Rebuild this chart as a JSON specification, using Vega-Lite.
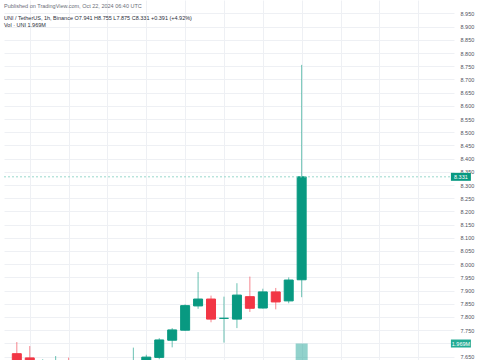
{
  "$schema": "https://vega.github.io/schema/vega-lite/v6.json",
  "width": 450,
  "height": 360,
  "autosize": {"type": "none"},
  "padding": {"left": 4, "top": 0, "right": 31, "bottom": 0},
  "background": "#ffffff",
  "config": {"view": {"stroke": null}, "font": "Liberation Sans"},
  "title": {
    "text": "Published on TradingView.com, Oct 22, 2024 06:40 UTC",
    "subtitle": ["UNI / TetherUS, 1h, Binance  O7.941  H8.755  L7.875  C8.331  +0.391 (+4.92%)", "Vol · UNI  1.969M"],
    "anchor": "start",
    "frame": "group",
    "orient": "top",
    "offset": -28,
    "fontSize": 5.5,
    "fontWeight": "normal",
    "color": "#6a6d78",
    "subtitleFontSize": 5.5,
    "subtitleColor": "#2a2e39",
    "subtitlePadding": 6,
    "subtitleLineHeight": 7
  },
  "datasets": {
    "candles": [
      {"i": 0, "open": 7.661, "high": 7.705, "low": 7.620, "close": 7.630},
      {"i": 1, "open": 7.645, "high": 7.690, "low": 7.600, "close": 7.610},
      {"i": 2, "open": 7.615, "high": 7.640, "low": 7.600, "close": 7.620},
      {"i": 3, "open": 7.600, "high": 7.652, "low": 7.590, "close": 7.630},
      {"i": 4, "open": 7.630, "high": 7.646, "low": 7.590, "close": 7.600},
      {"i": 5, "open": 7.600, "high": 7.625, "low": 7.580, "close": 7.590},
      {"i": 6, "open": 7.590, "high": 7.620, "low": 7.570, "close": 7.605},
      {"i": 7, "open": 7.605, "high": 7.630, "low": 7.580, "close": 7.590},
      {"i": 8, "open": 7.590, "high": 7.620, "low": 7.575, "close": 7.595},
      {"i": 9, "open": 7.595, "high": 7.684, "low": 7.585, "close": 7.615},
      {"i": 10, "open": 7.615, "high": 7.657, "low": 7.600, "close": 7.648},
      {"i": 11, "open": 7.647, "high": 7.720, "low": 7.640, "close": 7.713},
      {"i": 12, "open": 7.712, "high": 7.758, "low": 7.685, "close": 7.751},
      {"i": 13, "open": 7.750, "high": 7.848, "low": 7.748, "close": 7.843},
      {"i": 14, "open": 7.842, "high": 7.970, "low": 7.831, "close": 7.868},
      {"i": 15, "open": 7.868, "high": 7.881, "low": 7.780, "close": 7.792},
      {"i": 16, "open": 7.795, "high": 7.877, "low": 7.703, "close": 7.795},
      {"i": 17, "open": 7.792, "high": 7.928, "low": 7.758, "close": 7.883},
      {"i": 18, "open": 7.877, "high": 7.953, "low": 7.819, "close": 7.833},
      {"i": 19, "open": 7.834, "high": 7.907, "low": 7.832, "close": 7.895},
      {"i": 20, "open": 7.895, "high": 7.910, "low": 7.829, "close": 7.857},
      {"i": 21, "open": 7.861, "high": 7.950, "low": 7.852, "close": 7.940},
      {"i": 22, "open": 7.941, "high": 8.755, "low": 7.875, "close": 8.331}
    ],
    "volume": [
      {"i": 22, "vol": 1969000}
    ]
  },
  "resolve": {"scale": {"y": "independent"}},
  "layer": [
    {
      "data": {"name": "candles"},
      "encoding": {
        "x": {
          "field": "i", "type": "quantitative",
          "scale": {"domain": [-0.604, 33.38], "nice": false, "zero": false},
          "axis": {"orient": "bottom", "values": [1, 4, 7, 10, 13, 16, 19, 22, 25, 28, 31], "labels": false, "ticks": false, "domain": false, "grid": true, "gridColor": "#eef0f4", "title": null}
        },
        "y": {
          "field": "low", "type": "quantitative",
          "scale": {"domain": [7.6371, 9.0008], "nice": false, "zero": false},
          "axis": {
            "orient": "right",
            "values": [7.65, 7.7, 7.75, 7.8, 7.85, 7.9, 7.95, 8.0, 8.05, 8.1, 8.15, 8.2, 8.25, 8.3, 8.35, 8.4, 8.45, 8.5, 8.55, 8.6, 8.65, 8.7, 8.75, 8.8, 8.85, 8.9, 8.95],
            "format": ".3f",
            "labelExpr": "abs(datum.value - 7.7) < 0.001 ? '' : datum.label",
            "labelFontSize": 5.5, "labelColor": "#50535e", "labelPadding": 6,
            "ticks": false, "domain": false, "grid": true, "gridColor": "#eef0f4", "title": null
          }
        }
      },
      "layer": [
        {
          "mark": {"type": "rule", "clip": true, "strokeWidth": 1, "opacity": 0.6},
          "encoding": {
            "y2": {"field": "high"},
            "color": {"condition": {"test": "datum.close >= datum.open", "value": "#089981"}, "value": "#f23645"}
          }
        },
        {
          "mark": {"type": "bar", "clip": true, "size": 9, "strokeWidth": 1},
          "encoding": {
            "y": {"field": "open", "type": "quantitative"},
            "y2": {"field": "close"},
            "color": {"condition": {"test": "datum.close >= datum.open", "value": "#089981"}, "value": "#f23645"},
            "stroke": {"condition": {"test": "datum.close >= datum.open", "value": "#089981"}, "value": "#f23645"}
          }
        },
        {
          "transform": [{"filter": "datum.i == 22"}],
          "mark": {"type": "rule", "strokeDash": [2, 2], "color": "#9ad8cd", "strokeWidth": 1},
          "encoding": {"x": null, "y": {"field": "close", "type": "quantitative"}}
        },
        {
          "transform": [{"filter": "datum.i == 22"}],
          "mark": {"type": "point", "shape": "M-1,-0.4L1,-0.4L1,0.4L-1,0.4Z", "size": 400, "filled": true, "opacity": 1, "color": "#089981", "clip": false},
          "encoding": {"x": {"datum": 34.3, "type": "quantitative"}, "y": {"field": "close", "type": "quantitative"}}
        },
        {
          "transform": [{"filter": "datum.i == 22"}],
          "mark": {"type": "text", "color": "#ffffff", "fontSize": 5.5, "clip": false, "baseline": "middle", "align": "center"},
          "encoding": {"x": {"datum": 34.3, "type": "quantitative"}, "y": {"field": "close", "type": "quantitative"}, "text": {"field": "close", "format": ".3f"}}
        }
      ]
    },
    {
      "data": {"name": "volume"},
      "encoding": {
        "x": {"field": "i", "type": "quantitative", "scale": {"domain": [-0.604, 33.38], "nice": false, "zero": false}},
        "y": {"field": "vol", "type": "quantitative", "scale": {"domain": [0, 43000000], "nice": false}, "axis": null}
      },
      "layer": [
        {"mark": {"type": "bar", "size": 12, "color": "#26a69a", "opacity": 0.5, "clip": true}},
        {
          "mark": {"type": "point", "shape": "M-1,-0.4L1,-0.4L1,0.4L-1,0.4Z", "size": 400, "filled": true, "opacity": 1, "color": "#22ab94", "clip": false},
          "encoding": {"x": {"datum": 34.3, "type": "quantitative"}}
        },
        {
          "mark": {"type": "text", "color": "#ffffff", "fontSize": 5.5, "clip": false, "baseline": "middle", "align": "center"},
          "encoding": {"x": {"datum": 34.3, "type": "quantitative"}, "text": {"field": "vol", "format": ".4s"}}
        }
      ]
    }
  ]
}
